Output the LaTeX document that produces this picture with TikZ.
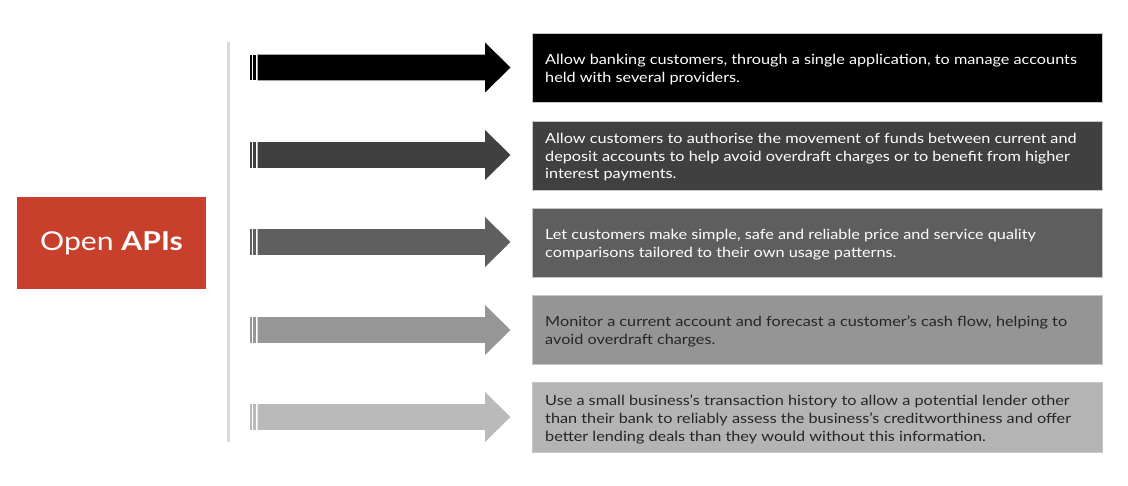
\documentclass[tikz,border=0pt]{standalone}
\usepackage{fontspec}
\setmainfont{Lato}[FakeStretch=1.16]
\definecolor{apired}{HTML}{C8402C}
\definecolor{cA}{HTML}{000000}
\definecolor{cB}{HTML}{404040}
\definecolor{cC}{HTML}{5F5F5F}
\definecolor{cD}{HTML}{969696}
\definecolor{cE}{HTML}{BABABA}
\definecolor{bB}{HTML}{404040}
\definecolor{bC}{HTML}{5E5E5E}
\definecolor{bD}{HTML}{959595}
\definecolor{bE}{HTML}{B4B4B4}
\definecolor{darktext}{HTML}{262626}
\tikzset{
  infobox/.style={draw=gray!45, line width=0.8pt, minimum width=570pt, minimum height=69pt, anchor=north west, inner sep=0pt},
  infotext/.style={anchor=north west, align=left, inner sep=0pt, font=\fontsize{14}{17.7}\selectfont},
}
\newcommand\myarrow[2]{%
  \fill[#2] (250,#1-12.8) rectangle (252,#1+12.8);
  \fill[#2] (253.3,#1-12.8) rectangle (256,#1+12.8);
  \fill[#2] (257.7,#1-12.8) -- (485,#1-12.8) -- (485,#1-25) -- (510.5,#1) -- (485,#1+25) -- (485,#1+12.8) -- (257.7,#1+12.8) -- cycle;
}
\begin{document}
\begin{tikzpicture}[x=1pt,y=-1pt]
\useasboundingbox (0,0) rectangle (1128,486);
% Open APIs box
\node[fill=apired, minimum width=189pt, minimum height=92pt, inner sep=0pt, text=white, font=\fontsize{26}{30}\selectfont] (api) at (111.5,243) {Open \textbf{APIs}};
% vertical line
\coordinate (vtop) at (228.5,42);
\coordinate (vbot) at (228.5,442);
\draw[line width=2.6pt, color=gray!30] (vtop) -- (vbot);
% arrows
\myarrow{67.5}{cA}
\myarrow{155}{cB}
\myarrow{242}{cC}
\myarrow{330}{cD}
\myarrow{417}{cE}
% boxes
\node[infobox, fill=black] (b1) at (532,33) {};
\node[infobox, fill=bB] (b2) at (532,121) {};
\node[infobox, fill=bC] (b3) at (532,208) {};
\node[infobox, fill=bD] (b4) at (532,295) {};
\node[infobox, fill=bE, minimum height=70pt] (b5) at (532,382) {};
\node[infotext, text=white] (t1) at (545,54) {Allow banking customers, through a single application, to manage accounts\\held with several providers.};
\node[infotext, text=white] (t2) at (545,133) {Allow customers to authorise the movement of funds between current and\\deposit accounts to help avoid overdraft charges or to benefit from higher\\interest payments.};
\node[infotext, text=white] (t3) at (545,229) {Let customers make simple, safe and reliable price and service quality\\comparisons tailored to their own usage patterns.};
\node[infotext, text=darktext] (t4) at (545,316) {Monitor a current account and forecast a customer's cash flow, helping to\\avoid overdraft charges.};
\node[infotext, text=darktext] (t5) at (545,395) {Use a small business's transaction history to allow a potential lender other\\than their bank to reliably assess the business's creditworthiness and offer\\better lending deals than they would without this information.};
\end{tikzpicture}
\end{document}
